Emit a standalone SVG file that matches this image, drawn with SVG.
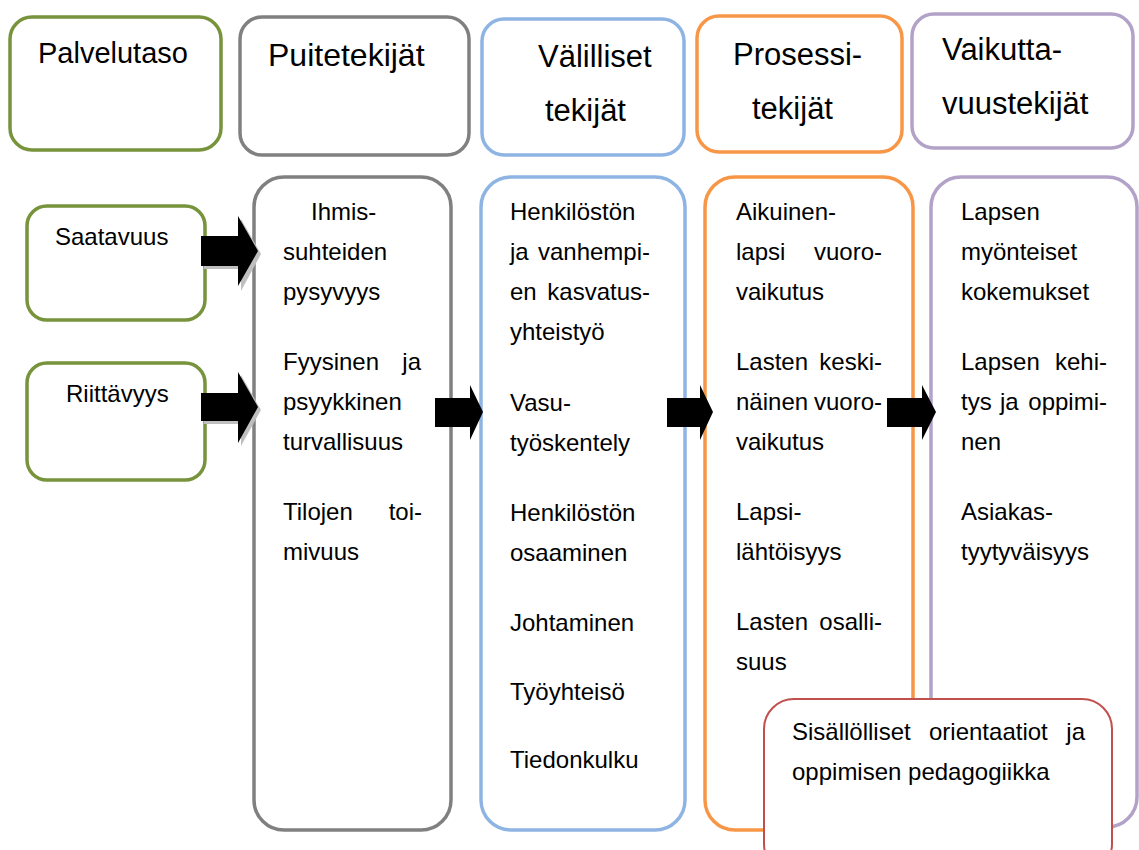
<svg xmlns="http://www.w3.org/2000/svg" width="1139" height="850" viewBox="0 0 1139 850">
<style>
.box{fill:#fff;stroke-width:3.5}
.g{stroke:#77933C}.k{stroke:#808080}.b{stroke:#8EB4E3}.o{stroke:#F79646}.p{stroke:#B3A2C7}.r{stroke:#C0504D;stroke-width:2}
text{font-family:"Liberation Sans",Arial,sans-serif;fill:#000}
.h{font-size:31px}
.t{font-size:24px}
.e{text-anchor:end}
.arr{fill:#000}
.sh{fill:#BFBFBF}
</style>
<rect width="1139" height="850" fill="#fff"/>
<g id="hdr-palvelutaso"><rect class="box g" x="10" y="17" width="211" height="133" rx="22"/><text class="h" x="38" y="63" style="font-size:29px">Palvelutaso</text></g>
<g id="hdr-puite"><rect class="box k" x="240" y="17" width="229" height="138" rx="22"/><text class="h" x="268" y="66" style="font-size:32px">Puitetekijät</text></g>
<g id="hdr-valilliset"><rect class="box b" x="482" y="19" width="202" height="136" rx="22"/><text class="h" x="538" y="67">Välilliset</text><text class="h" x="545" y="121">tekijät</text></g>
<g id="hdr-prosessi"><rect class="box o" x="697" y="16" width="205" height="136" rx="22"/><text class="h" x="733" y="65">Prosessi-</text><text class="h" x="752" y="119">tekijät</text></g>
<g id="hdr-vaikutta"><rect class="box p" x="912" y="14" width="221" height="134" rx="22"/><text class="h" x="942" y="60">Vaikutta-</text><text class="h" x="942" y="114">vuustekijät</text></g>

<g id="saatavuus"><rect class="box g" x="27" y="206" width="178" height="114" rx="20"/><text class="t" x="55" y="245">Saatavuus</text></g>
<g id="riittavyys"><rect class="box g" x="27" y="363" width="178" height="117" rx="20"/><text class="t" x="66" y="402">Riittävyys</text></g>

<g id="puite"><rect class="box k" x="254" y="177" width="197" height="653" rx="30"/>
<text class="t" x="311" y="220">Ihmis-</text>
<text class="t" x="283" y="260">suhteiden</text>
<text class="t" x="283" y="300">pysyvyys</text>
<text class="t" x="283" y="370">Fyysinen</text><text class="t e" x="421" y="370">ja</text>
<text class="t" x="283" y="410">psyykkinen</text>
<text class="t" x="283" y="450">turvallisuus</text>
<text class="t" x="283" y="520">Tilojen</text><text class="t e" x="422" y="520">toi-</text>
<text class="t" x="283" y="560">mivuus</text>
</g>

<g id="valilliset"><rect class="box b" x="481" y="177" width="204" height="653" rx="30"/>
<text class="t" x="510" y="220">Henkilöstön</text>
<text class="t" x="510" y="260">ja</text><text class="t e" x="650" y="260">vanhempi-</text>
<text class="t" x="510" y="300">en</text><text class="t e" x="650" y="300">kasvatus-</text>
<text class="t" x="510" y="340">yhteistyö</text>
<text class="t" x="510" y="411">Vasu-</text>
<text class="t" x="510" y="451">työskentely</text>
<text class="t" x="510" y="521">Henkilöstön</text>
<text class="t" x="510" y="561">osaaminen</text>
<text class="t" x="510" y="631">Johtaminen</text>
<text class="t" x="510" y="700">Työyhteisö</text>
<text class="t" x="510" y="768">Tiedonkulku</text>
</g>

<g id="prosessi"><rect class="box o" x="705" y="177" width="208" height="653" rx="30"/>
<text class="t" x="736" y="220">Aikuinen-</text>
<text class="t" x="736" y="260">lapsi</text><text class="t e" x="882" y="260">vuoro-</text>
<text class="t" x="736" y="300">vaikutus</text>
<text class="t" x="736" y="370">Lasten</text><text class="t e" x="882" y="370">keski-</text>
<text class="t" x="736" y="410">näinen</text><text class="t e" x="882" y="410">vuoro-</text>
<text class="t" x="736" y="450">vaikutus</text>
<text class="t" x="736" y="520">Lapsi-</text>
<text class="t" x="736" y="560">lähtöisyys</text>
<text class="t" x="736" y="630">Lasten</text><text class="t e" x="882" y="630">osalli-</text>
<text class="t" x="736" y="670">suus</text>
</g>

<g id="vaikutta"><rect class="box p" x="931" y="177" width="206" height="650" rx="30"/>
<text class="t" x="961" y="220">Lapsen</text>
<text class="t" x="961" y="260">myönteiset</text>
<text class="t" x="961" y="300">kokemukset</text>
<text class="t" x="961" y="370">Lapsen</text><text class="t e" x="1107" y="370">kehi-</text>
<text class="t" x="961" y="410">tys</text><text class="t" x="1000" y="410">ja</text><text class="t e" x="1107" y="410">oppimi-</text>
<text class="t" x="961" y="450">nen</text>
<text class="t" x="961" y="520">Asiakas-</text>
<text class="t" x="961" y="560">tyytyväisyys</text>
</g>

<g id="sisallolliset"><rect class="box r" x="764" y="699" width="348" height="175" rx="30"/>
<text class="t" x="792" y="740">Sisällölliset</text><text class="t" x="929" y="740">orientaatiot</text><text class="t e" x="1085" y="740">ja</text>
<text class="t" x="792" y="780">oppimisen pedagogiikka</text>
</g>

<g id="connectors">
<polygon class="sh" points="204,239 241,239 241,219 261,254 241,291 241,269 204,269"/>
<polygon class="arr" points="201,236 238,236 238,216 258,251 238,286 238,266 201,266"/>
<polygon class="sh" points="204,396 241,396 241,375 261,410 241,446 241,424 204,424"/>
<polygon class="arr" points="201,393 238,393 238,372 258,407 238,443 238,421 201,421"/>
<polygon class="arr" points="435,398 470,398 470,385 483,412 470,440 470,427 435,427"/>
<polygon class="arr" points="667,398 700,398 700,385 713,412 700,440 700,427 667,427"/>
<polygon class="arr" points="887,398 922,398 922,385 936,412 922,440 922,427 887,427"/>
</g>
</svg>
